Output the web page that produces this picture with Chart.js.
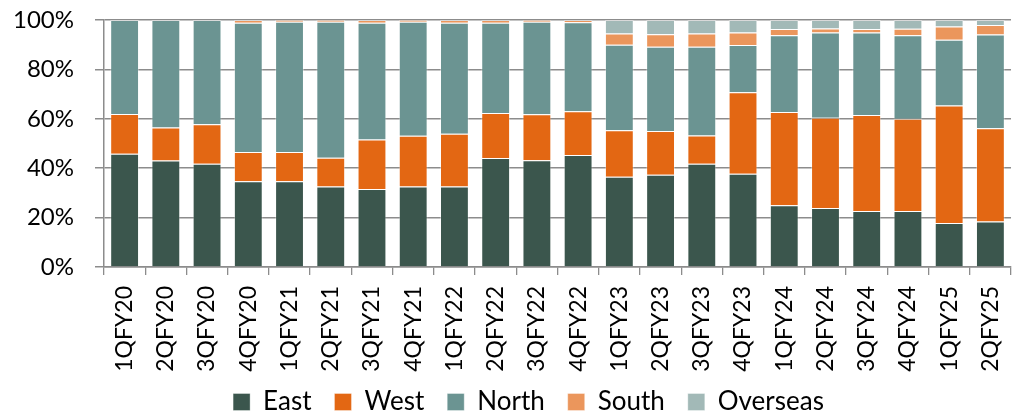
<!DOCTYPE html>
<html>
<head>
<meta charset="utf-8">
<script src="https://cdn.jsdelivr.net/npm/chart.js@4.4.1/dist/chart.umd.min.js"></script>
<style>
  html, body { margin: 0; padding: 0; background: #fff; overflow: hidden; }
  canvas { display: block; }
</style>
</head>
<body>
<canvas id="mix" width="1029" height="417"></canvas>
<script>
// Quarterly regional revenue mix, % of total
const categories = [
  '1QFY20','2QFY20','3QFY20','4QFY20','1QFY21','2QFY21','3QFY21','4QFY21',
  '1QFY22','2QFY22','3QFY22','4QFY22','1QFY23','2QFY23','3QFY23','4QFY23',
  '1QFY24','2QFY24','3QFY24','4QFY24','1QFY25','2QFY25'
];
const east     = [45.8, 43.1, 41.8, 34.7, 34.7, 32.6, 31.6, 32.6, 32.6, 44.1, 43.2, 45.3, 36.5, 37.3, 41.8, 37.8, 25.0, 23.9, 22.7, 22.7, 17.8, 18.4];
const west     = [16.1, 13.4, 16.0, 11.9, 11.9, 11.6, 20.0, 20.5, 21.3, 18.2, 18.6, 17.8, 18.9, 17.8, 11.4, 32.9, 37.8, 36.5, 38.8, 37.3, 47.6, 37.8];
const north    = [38.1, 43.5, 42.2, 52.3, 52.7, 55.1, 47.3, 46.2, 45.0, 36.6, 37.5, 36.0, 34.6, 34.1, 36.0, 19.2, 31.0, 34.5, 33.4, 33.8, 26.6, 37.9];
const south    = [0, 0, 0, 1.1, 0.7, 0.7, 1.1, 0.7, 1.1, 1.1, 0.7, 0.9, 4.5, 5.0, 5.3, 5.0, 2.6, 1.7, 1.5, 2.7, 5.4, 3.9];
const overseas = [0, 0, 0, 0, 0, 0, 0, 0, 0, 0, 0, 0, 5.5, 5.8, 5.5, 5.1, 3.6, 3.4, 3.6, 3.5, 2.6, 2.0];
const yTicks   = [0, 20, 40, 60, 80, 100];

const FONT = 'Lato';
const GRID = '#8c8c8c';

function series(label, data, color) {
  return {
    label, data,
    backgroundColor: color,
    borderColor: 'rgba(255,255,255,0.35)',
    borderWidth: 1,
    borderSkipped: 'start',
    barPercentage: 0.7,
    categoryPercentage: 1.0
  };
}

// Nudge the legend row so it sits centred under the whole figure, close to the axis labels
const legendPlacement = {
  id: 'legendPlacement',
  afterLayout(chart) {
    const lg = chart.legend;
    if (!lg) return;
    lg.left += 14; lg.right += 14;
    lg.top -= 13;
  }
};

function draw() {
  new Chart(document.getElementById('mix'), {
    type: 'bar',
    data: {
      labels: categories,
      datasets: [
        series('East', east, '#3b564d'),
        series('West', west, '#e36713'),
        series('North', north, '#6b9492'),
        series('South', south, '#eb965c'),
        series('Overseas', overseas, '#a2b9b7')
      ]
    },
    plugins: [legendPlacement],
    options: {
      responsive: false,
      animation: false,
      layout: { padding: 0 },
      scales: {
        x: {
          stacked: true,
          afterFit(scale) { scale.height = 112; },
          grid: { drawOnChartArea: false, offset: true, color: GRID, lineWidth: 1.3, tickLength: 8 },
          border: { color: GRID, width: 1.5 },
          ticks: {
            autoSkip: false, minRotation: 90, maxRotation: 90, padding: 11,
            color: '#000', font: { family: FONT, size: 23 }
          }
        },
        y: {
          stacked: true,
          min: 0, max: 100,
          z: 1,
          afterBuildTicks(scale) { scale.ticks = yTicks.map(v => ({ value: v })); },
          afterFit(scale) {
            scale.width = 104;
            scale.paddingTop = 20;
            scale.paddingBottom = 0;
          },
          grid: { color: GRID, lineWidth: 1.5, tickLength: 9 },
          border: { color: GRID, width: 1.5 },
          ticks: {
            padding: 21, color: '#000',
            font: { family: FONT, size: 24 },
            callback: v => v + '%'
          }
        }
      },
      plugins: {
        tooltip: { enabled: false },
        legend: {
          position: 'bottom',
          maxHeight: 38,
          labels: {
            boxWidth: 17, boxHeight: 17, padding: 23,
            color: '#000', font: { family: FONT, size: 26 }
          }
        }
      }
    }
  });
}

if (document.fonts && document.fonts.load) {
  document.fonts.load('24px Lato').then(draw, draw);
} else {
  draw();
}
</script>
</body>
</html>
